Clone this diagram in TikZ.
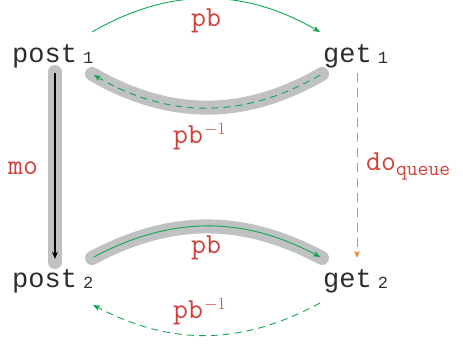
\documentclass[tikz,border=0pt]{standalone}
\usepackage{fontspec}
\setmonofont{Liberation Mono}
\usetikzlibrary{arrows.meta,calc}
\definecolor{labred}{RGB}{208,64,56}
\definecolor{pbgreen}{RGB}{16,168,80}
\definecolor{doorange}{RGB}{238,138,60}
\definecolor{hlgray}{RGB}{192,193,195}
\definecolor{evtblack}{RGB}{45,45,45}
\newcommand\labfnt{\fontencoding{TU}\fontfamily{lmtt}\selectfont}
\newcommand\evtxt[2]{{\ttfamily\fontsize{27}{30}\selectfont #1}\kern6pt\raisebox{-1pt}{\ttfamily\fontsize{17}{17}\selectfont #2}}
\newcommand\lbltxt[1]{{\labfnt\fontsize{29}{32}\selectfont #1}}
\newcommand\invsup{\kern1pt\raisebox{9pt}{\fontsize{18}{18}\selectfont$-1$}}
\begin{document}
\begin{tikzpicture}[x=1pt,y=-1pt,
  evt/.style={inner sep=0pt, anchor=base west, text=evtblack},
  lbl/.style={inner sep=0pt, text=labred},
  hl/.style={line width=14pt, draw=hlgray, line cap=round},
  tip/.style={-{Stealth[length=7pt,width=5.5pt,inset=1.5pt]}},
  pbarr/.style={draw=pbgreen, line width=0.9pt, tip},
  pbinv/.style={pbarr, dash pattern=on 7pt off 5pt},
  moarr/.style={draw=black, line width=1.1pt, tip},
  doarr/.style={draw=doorange, line width=1pt, dash pattern=on 9pt off 6pt, tip}]
\useasboundingbox (0,0) rectangle (463,343);

% events
\node[evt] (post1) at (12,62) {\evtxt{post}{1}};
\node[evt] (get1) at (323,62) {\evtxt{get}{1}};
\node[evt] (post2) at (12,287) {\evtxt{post}{2}};
\node[evt] (get2) at (323,287) {\evtxt{get}{2}};

% highlights
\draw[hl] ($(post1.base west)+(80,12)$) to[bend right=30] ($(get1.base west)+(-1,12)$);
\draw[hl] ($(post2.base west)+(80,-29)$) to[bend left=28] ($(get2.base west)+(-1,-29)$);
\draw[hl] ($(post1.base west)+(43,10)$) -- ($(post2.base west)+(43,-25)$);

% top pb
\draw[pbarr] ($(post1.base west)+(80,-30)$) to[bend left=30] ($(get1.base west)+(-3,-30)$);
% upper pb^-1
\draw[pbinv, shorten <=2pt, shorten >=2pt] ($(get1.base west)+(-1,12)$) to[bend left=30] ($(post1.base west)+(80,12)$);
% bottom pb
\draw[pbarr, shorten <=2pt, shorten >=2pt] ($(post2.base west)+(80,-29)$) to[bend left=28] ($(get2.base west)+(-1,-29)$);
% bottom pb^-1
\draw[pbinv] ($(get2.base west)+(-3,16)$) to[bend left=28] ($(post2.base west)+(81,18)$);
% mo
\draw[moarr] ($(post1.base west)+(43,11)$) -- ($(post2.base west)+(43,-28)$);
% do queue
\draw[doarr] ($(get1.base west)+(34,11)$) -- ($(get2.base west)+(34,-29)$);

% labels
\node[lbl, anchor=base] (lpbtop) at (206,26) {\lbltxt{pb}};
\node[lbl, anchor=base west] (linvtop) at (173,143) {\lbltxt{pb}\invsup};
\node[lbl, anchor=base west] (lmo) at (8,174) {\lbltxt{mo}};
\node[lbl, anchor=base west] (ldo) at (366,170) {\lbltxt{do}\raisebox{-5pt}{\labfnt\fontsize{21}{21}\selectfont queue}};
\node[lbl, anchor=base] (lpbbot) at (206,253) {\lbltxt{pb}};
\node[lbl, anchor=base west] (linvbot) at (173,318) {\lbltxt{pb}\invsup};
\end{tikzpicture}
\end{document}
